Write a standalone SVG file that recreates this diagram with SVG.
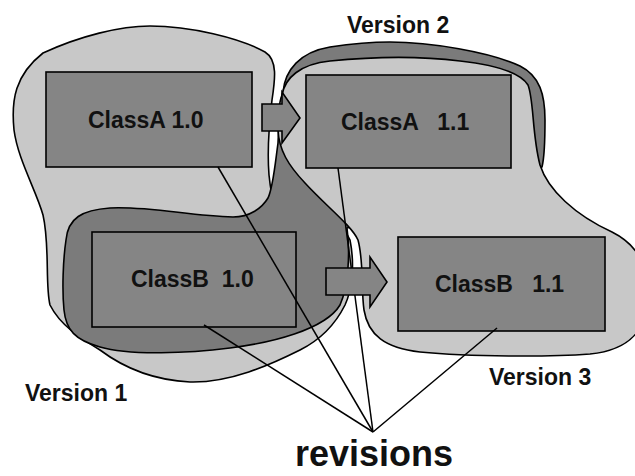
<svg xmlns="http://www.w3.org/2000/svg" width="635" height="476" viewBox="0 0 635 476">
<style>
.blob{stroke:#000;stroke-width:1.6;stroke-linejoin:round}
.light{fill:#c8c8c8}
.dark{fill:#7b7b7b}
.box{fill:#858585;stroke:#000;stroke-width:1.6}
.arrow{fill:#858585;stroke:#000;stroke-width:1.6;stroke-linejoin:miter}
.lbl{font-family:"Liberation Sans",Arial,sans-serif;font-weight:bold;font-size:23px;fill:#111;white-space:pre}
.big{font-family:"Liberation Sans",Arial,sans-serif;font-weight:bold;font-size:36px;fill:#111}
.conn{stroke:#000;stroke-width:1.5;fill:none}
</style>
<g id="version1">
<path class="blob light" d="M43,53 C80,36 120,26 150,26 C190,26 240,38 265,52 C278,60 275,80 272,100 C269,125 267,150 269,175 C270,182 270,188 272,193 C290,215 340,215 350,240 C355,265 352,290 345,305 C335,325 320,340 300,350 C270,365 230,383 190,382 C150,380 120,365 100,350 C80,338 60,325 50,305 C45,285 50,245 43,215 C36,190 18,160 14,130 C11,100 15,75 43,53 Z"/>
</g>
<g id="version2">
<path class="blob dark" d="M283,92 C285,70 300,52 330,47 C350,44 370,42 390,42 C430,42 490,52 520,66 C540,76 545,95 545,120 C545,140 545,155 542,167 L450,200 L347,228 C350,250 349,285 340,305 C325,330 270,343 230,348 C190,353 130,356 100,347 C75,340 66,330 64,310 C62,290 63,260 66,240 C68,218 82,210 110,208 C150,206 190,216 233,217 C250,217 262,208 268,198 C273,188 275,165 278,143 C279,120 280,100 283,92 Z"/>
</g>
<g id="version3">
<path class="blob light" d="M282,95 C285,78 300,64 330,61 C370,57 420,56 460,61 C495,65 520,72 528,85 C534,100 532,135 540,165 C548,190 575,215 612,232 C640,246 650,270 648,300 C646,330 630,350 590,354 C550,357 470,357 420,352 C385,348 368,335 364,310 C361,290 364,262 358,240 C352,226 325,205 305,183 C288,165 279,150 278,130 C278,112 280,100 282,95 Z"/>
</g>
<g id="classA10">
<rect class="box" x="46" y="72" width="206" height="95"/>
<text class="lbl" x="88" y="128">ClassA 1.0</text>
</g>
<g id="classA11">
<rect class="box" x="306" y="75" width="205" height="93"/>
<text class="lbl" x="341" y="130" xml:space="preserve">ClassA   1.1</text>
</g>
<g id="classB10">
<rect class="box" x="92" y="232" width="204" height="95"/>
<text class="lbl" x="131" y="287" xml:space="preserve">ClassB  1.0</text>
</g>
<g id="classB11">
<rect class="box" x="398" y="237" width="207" height="94"/>
<text class="lbl" x="435" y="292" xml:space="preserve">ClassB   1.1</text>
</g>
<g id="connectors">
<line class="conn" x1="218" y1="167" x2="373" y2="432"/>
<line class="conn" x1="338" y1="168" x2="373" y2="432"/>
<line class="conn" x1="204" y1="325" x2="373" y2="432"/>
<line class="conn" x1="497" y1="328" x2="373" y2="432"/>
<path class="arrow" d="M262,104 L282,104 L282,92 L300,118 L282,143 L282,131 L262,131 Z"/>
<path class="arrow" d="M326,268 L370,268 L370,257 L387,282 L370,307 L370,295 L326,295 Z"/>
</g>
<g id="labels">
<text class="lbl" x="347" y="33">Version 2</text>
<text class="lbl" x="25" y="401">Version 1</text>
<text class="lbl" x="489" y="385">Version 3</text>
<text class="big" x="295" y="466">revisions</text>
</g>
</svg>
